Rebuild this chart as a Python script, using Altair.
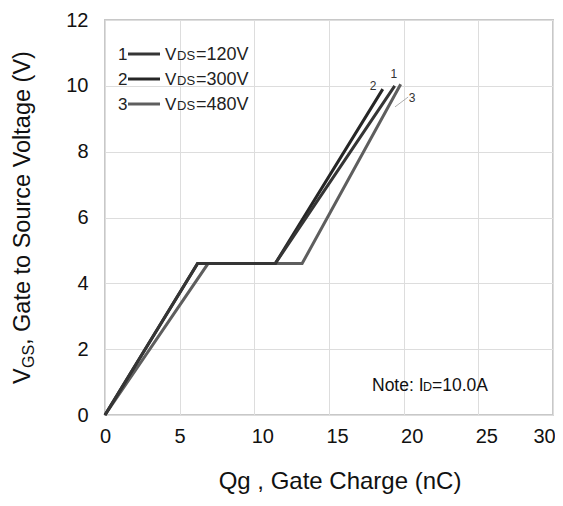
import altair as alt
import pandas as pd

FONT = "Liberation Sans"

# ---- data ----
q_1 = [0, 6.2, 11.4, 19.4]
v_1 = [0, 4.6, 4.6, 10.0]
q_2 = [0, 6.2, 11.4, 18.6]
v_2 = [0, 4.6, 4.6, 9.9]
q_3 = [0, 6.9, 13.2, 19.8]
v_3 = [0, 4.6, 4.6, 10.05]
colors = {"1": "#353535", "2": "#262626", "3": "#5e5e5e"}

x_ticks = [0, 5, 10, 15, 20, 25, 30]
y_ticks = [0, 2, 4, 6, 8, 10, 12]

end_labels = ["2", "1", "3"]
end_label_q = [17.95, 19.35, 20.56]
end_label_v = [10.0, 10.36, 9.63]
leader_q = [19.42, 20.3]
leader_v = [9.36, 9.66]

legend_nums = ["1", "2", "3"]
legend_vals = ["=120V", "=300V", "=480V"]
legend_rows = [34, 59, 84]

rows = []
for s, qs, vs in [("3", q_3, v_3), ("2", q_2, v_2), ("1", q_1, v_1)]:
    for i, (q, v) in enumerate(zip(qs, vs)):
        rows.append({"series": s, "q": q, "v": v, "idx": i})
df = pd.DataFrame(rows)

xs = alt.Scale(domain=[0, 30], nice=False, zero=False)
ys = alt.Scale(domain=[0, 12], nice=False, zero=False)

x_label_offset = alt.expr(
    "datum.value >= 30 ? -9 : (datum.value >= 10 ? 8 : 0)")

base = alt.Chart(df)
lines = base.mark_line(strokeWidth=3, strokeJoin="miter").encode(
    x=alt.X("q:Q", scale=xs,
            axis=alt.Axis(values=x_ticks, title=None, grid=True, labelPadding=11,
                          labelFlush=False, labelOffset=x_label_offset)),
    y=alt.Y("v:Q", scale=ys,
            axis=alt.Axis(values=y_ticks, title=None, grid=True, labelPadding=17,
                          labelFlush=False)),
    color=alt.Color("series:N", scale=alt.Scale(domain=list(colors.keys()),
                                                 range=list(colors.values())),
                    legend=None),
    order="idx:Q",
)

lab_df = pd.DataFrame({"t": end_labels, "q": end_label_q, "v": end_label_v})
end_text = alt.Chart(lab_df).mark_text(font=FONT, fontSize=12, color="#333").encode(
    x=alt.X("q:Q", scale=xs), y=alt.Y("v:Q", scale=ys), text="t:N")

lead_df = pd.DataFrame({"q": [leader_q[0]], "q2": [leader_q[1]],
                        "v": [leader_v[0]], "v2": [leader_v[1]]})
leader = alt.Chart(lead_df).mark_rule(color="#999", strokeWidth=0.8).encode(
    x=alt.X("q:Q", scale=xs), x2="q2:Q", y=alt.Y("v:Q", scale=ys), y2="v2:Q")


def txt(t, x, y, size, angle=0, align="left", baseline="alphabetic", color="#111"):
    kw = dict(font=FONT, fontSize=size, align=align, baseline=baseline, color=color)
    if angle:
        kw["angle"] = angle
    return alt.Chart(alt.Data(values=[{}])).mark_text(**kw).encode(
        x=alt.value(x), y=alt.value(y), text=alt.value(t))


layers = [lines, end_text, leader]

# legend
for n, val, ry in zip(legend_nums, legend_vals, legend_rows):
    layers.append(txt(n, 13, ry + 6, 17, color="#222"))
    layers.append(alt.Chart(alt.Data(values=[{}])).mark_rule(
        color=colors[n], strokeWidth=3).encode(
        x=alt.value(23), x2=alt.value(55), y=alt.value(ry)))
    layers.append(txt("V", 60, ry + 6, 17, color="#222"))
    layers.append(txt("DS", 72, ry + 6, 13, color="#222"))
    layers.append(txt(val, 91, ry + 6, 18, color="#222"))

# note
layers.append(txt("Note: I", 267, 371, 17.5))
layers.append(txt("D", 318, 371, 12.5))
layers.append(txt("=10.0A", 327, 371, 17.5))

# y title (rotated)
layers.append(txt("V", -75, 364, 23.5, angle=270))
layers.append(txt("GS", -71, 348, 16, angle=270))
layers.append(txt("\u00a0, Gate to Source Voltage (V)", -75, 325, 23.5, angle=270))

# x title
layers.append(txt("Qg , Gate Charge (nC)", 235, 469, 24, align="center"))

chart = alt.layer(*layers).properties(
    width=448, height=395,
    padding={"left": 97, "top": 12, "right": 2, "bottom": 82},
    autosize=alt.AutoSizeParams(type="none"),
).configure_view(
    stroke="#c8c8c8", strokeWidth=2
).configure_axis(
    labelFont=FONT, labelFontSize=20, labelColor="#111",
    gridColor="#dddddd", gridWidth=1, domain=False, ticks=False,
)

chart.save("out.html", embed_options={"renderer": "svg", "actions": False})
